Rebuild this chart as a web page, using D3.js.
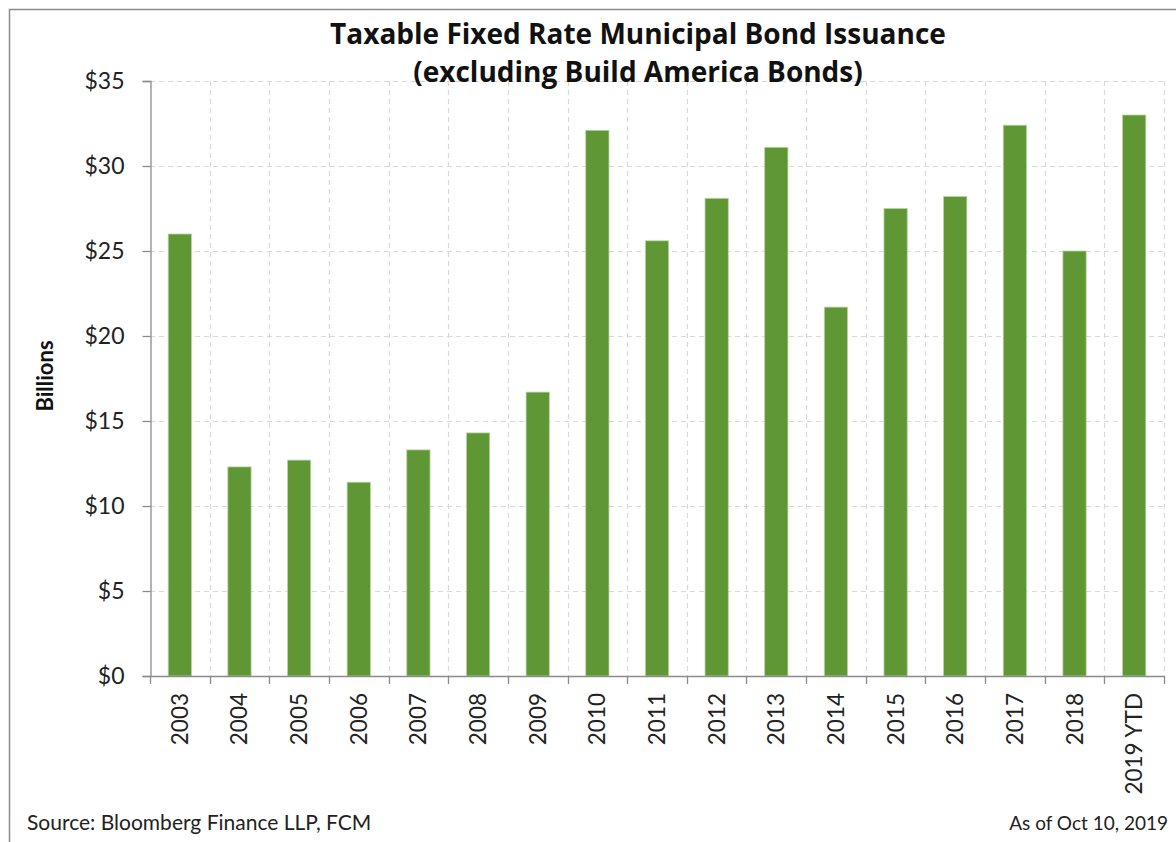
<!DOCTYPE html>
<html>
<head>
<meta charset="utf-8">
<script src="https://cdn.jsdelivr.net/npm/d3@7"></script>
<style>
  html, body { margin: 0; padding: 0; background: #fff; }
  svg { display: block; }
  text { font-family: Lato, "Open Sans", sans-serif; }
</style>
</head>
<body>
<svg id="chart" width="1176" height="842"></svg>
<script>
const categories = ["2003","2004","2005","2006","2007","2008","2009","2010","2011","2012","2013","2014","2015","2016","2017","2018","2019 YTD"];
const values = [26.0, 12.3, 12.7, 11.4, 13.3, 14.3, 16.7, 32.1, 25.6, 28.1, 31.1, 21.7, 27.5, 28.2, 32.4, 25.0, 33.0];
const yTicks = [0, 5, 10, 15, 20, 25, 30, 35];
const titleLines = ["Taxable Fixed Rate Municipal Bond Issuance", "(excluding Build America Bonds)"];
const yAxisTitle = "Billions";
const sourceText = "Source: Bloomberg Finance LLP, FCM";
const asOfText = "As of Oct 10, 2019";

const svg = d3.select("#chart");
const W = 1176, H = 842;
const plot = { left: 150, right: 1164, top: 81, bottom: 676 };

// outer frame (top and left edges visible)
svg.append("path")
  .attr("d", `M9.5,${H} L9.5,9.5 L${W},9.5`)
  .attr("fill", "none").attr("stroke", "#8c8c8c").attr("stroke-width", 1.5);

const x = d3.scaleBand().domain(categories).range([plot.left, plot.right]).paddingInner(0).paddingOuter(0);
const y = d3.scaleLinear().domain([0, 35]).range([plot.bottom, plot.top]);

const grid = svg.append("g");
grid.selectAll("line.h").data(yTicks.filter(d => d > 0)).join("line")
  .attr("x1", plot.left).attr("x2", plot.right)
  .attr("y1", d => Math.round(y(d)) + 0.5).attr("y2", d => Math.round(y(d)) + 0.5)
  .attr("stroke", "#d9d9d9").attr("stroke-width", 1.2).attr("stroke-dasharray", "5,4");
const bounds = categories.slice(1).map(c => x(c)).concat([plot.right]);
grid.selectAll("line.v").data(bounds).join("line")
  .attr("x1", d => Math.round(d) + 0.5).attr("x2", d => Math.round(d) + 0.5)
  .attr("y1", plot.top).attr("y2", plot.bottom)
  .attr("stroke", "#d9d9d9").attr("stroke-width", 1.2).attr("stroke-dasharray", "5,4");

// bars
const bw = x.bandwidth() * 0.39;
svg.append("g").selectAll("rect").data(values).join("rect")
  .attr("x", (d, i) => x(categories[i]) + (x.bandwidth() - bw) / 2)
  .attr("y", d => y(d))
  .attr("width", bw)
  .attr("height", d => y(0) - y(d))
  .attr("fill", "#5e9734")
  .attr("stroke", "#b9d4a6").attr("stroke-width", 0.8);

// y axis
const yAxis = d3.axisLeft(y).tickValues(yTicks).tickSize(8).tickPadding(18).tickFormat(d => "$" + d);
const gy = svg.append("g").attr("transform", `translate(${plot.left + 0.5},0)`).call(yAxis);
gy.select(".domain").attr("stroke", "#8c8c8c").attr("stroke-width", 1.3);
gy.selectAll(".tick line").attr("stroke", "#8c8c8c").attr("stroke-width", 1.3);
gy.selectAll(".tick text").attr("font-size", 23).attr("fill", "#222");

// x axis
const gx = svg.append("g");
gx.append("line").attr("x1", plot.left).attr("x2", plot.right)
  .attr("y1", plot.bottom + 0.5).attr("y2", plot.bottom + 0.5)
  .attr("stroke", "#8c8c8c").attr("stroke-width", 1.3);
gx.selectAll("line.t").data([plot.left].concat(bounds)).join("line")
  .attr("x1", d => Math.round(d) + 0.5).attr("x2", d => Math.round(d) + 0.5)
  .attr("y1", plot.bottom).attr("y2", plot.bottom + 8)
  .attr("stroke", "#8c8c8c").attr("stroke-width", 1.3);
gx.selectAll("text").data(categories).join("text")
  .attr("transform", d => `translate(${x(d) + x.bandwidth() / 2 + 8},${plot.bottom + 17}) rotate(-90)`)
  .attr("text-anchor", "end")
  .attr("font-size", 22.5).attr("fill", "#222")
  .text(d => d);

// title
svg.append("g").selectAll("text").data(titleLines).join("text")
  .attr("x", 638).attr("y", (d, i) => 44 + i * 38)
  .attr("text-anchor", "middle")
  .style("font-family", "'Open Sans', sans-serif")
  .attr("font-size", 28).attr("font-weight", "bold").attr("fill", "#111")
  .text(d => d);

// y axis title
svg.append("text")
  .attr("transform", "translate(53,376) rotate(-90)")
  .attr("text-anchor", "middle")
  .attr("font-size", 22).attr("font-weight", "bold").attr("fill", "#111")
  .text(yAxisTitle);

// footer
svg.append("text").attr("x", 27).attr("y", 830)
  .attr("font-size", 21).attr("fill", "#222").text(sourceText);
svg.append("text").attr("x", 1168).attr("y", 830).attr("text-anchor", "end")
  .attr("font-size", 19).attr("fill", "#222").text(asOfText);
</script>
</body>
</html>
